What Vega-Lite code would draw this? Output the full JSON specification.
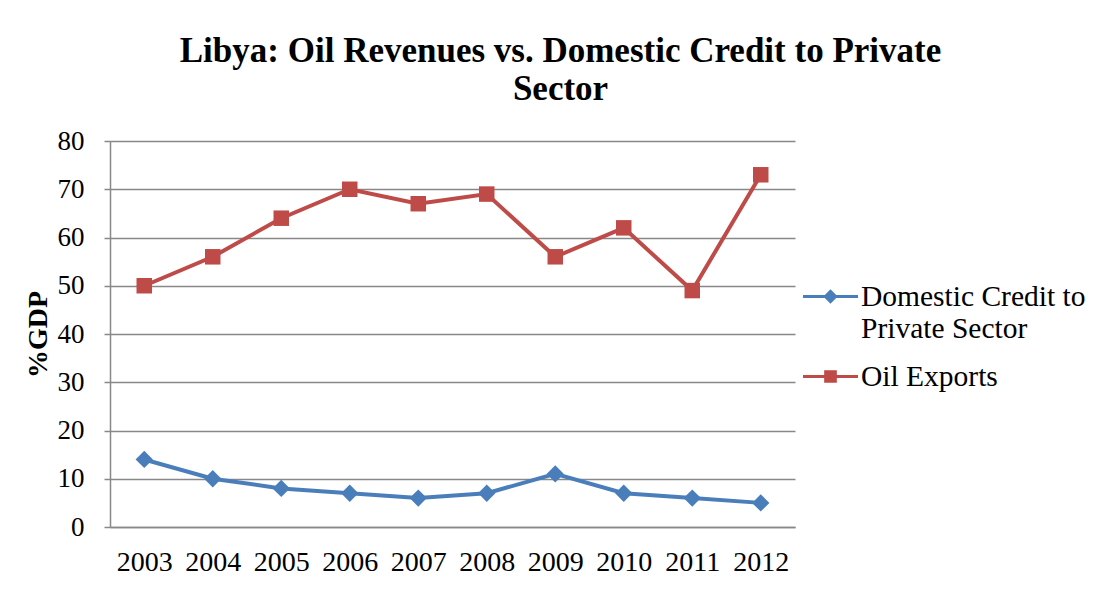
{
  "$schema": "https://vega.github.io/schema/vega-lite/v6.json",
  "width": 685,
  "height": 386,
  "autosize": {"type": "none"},
  "padding": {"left": 110, "top": 141, "right": 310, "bottom": 64},
  "background": "white",
  "title": {
    "text": ["Libya: Oil Revenues vs. Domestic Credit to Private", "Sector"],
    "font": "Liberation Serif",
    "fontSize": 35,
    "fontWeight": "bold",
    "color": "black",
    "anchor": "middle",
    "frame": "group",
    "dx": 108,
    "offset": 20,
    "lineHeight": 38
  },
  "data": {
    "values": [
      {"year": "2003", "series": "Domestic Credit to Private Sector", "value": 14},
      {"year": "2004", "series": "Domestic Credit to Private Sector", "value": 10},
      {"year": "2005", "series": "Domestic Credit to Private Sector", "value": 8},
      {"year": "2006", "series": "Domestic Credit to Private Sector", "value": 7},
      {"year": "2007", "series": "Domestic Credit to Private Sector", "value": 6},
      {"year": "2008", "series": "Domestic Credit to Private Sector", "value": 7},
      {"year": "2009", "series": "Domestic Credit to Private Sector", "value": 11},
      {"year": "2010", "series": "Domestic Credit to Private Sector", "value": 7},
      {"year": "2011", "series": "Domestic Credit to Private Sector", "value": 6},
      {"year": "2012", "series": "Domestic Credit to Private Sector", "value": 5},
      {"year": "2003", "series": "Oil Exports", "value": 50},
      {"year": "2004", "series": "Oil Exports", "value": 56},
      {"year": "2005", "series": "Oil Exports", "value": 64},
      {"year": "2006", "series": "Oil Exports", "value": 70},
      {"year": "2007", "series": "Oil Exports", "value": 67},
      {"year": "2008", "series": "Oil Exports", "value": 69},
      {"year": "2009", "series": "Oil Exports", "value": 56},
      {"year": "2010", "series": "Oil Exports", "value": 62},
      {"year": "2011", "series": "Oil Exports", "value": 49},
      {"year": "2012", "series": "Oil Exports", "value": 73}
    ]
  },
  "encoding": {
    "x": {
      "field": "year",
      "type": "ordinal",
      "scale": {"type": "point", "padding": 0.5},
      "axis": {
        "title": null,
        "labelAngle": 0,
        "labelFont": "Liberation Serif",
        "labelFontSize": 28,
        "labelColor": "black",
        "labelPadding": 21,
        "ticks": false,
        "domainColor": "#888888",
        "domainWidth": 1.5,
        "grid": false
      }
    },
    "y": {
      "field": "value",
      "type": "quantitative",
      "scale": {"domain": [0, 80], "nice": false},
      "axis": {
        "title": "%GDP",
        "titleFont": "Liberation Serif",
        "titleFontSize": 28,
        "titleFontWeight": "bold",
        "titleColor": "black",
        "titlePadding": 5,
        "values": [0, 10, 20, 30, 40, 50, 60, 70, 80],
        "labelFont": "Liberation Serif",
        "labelFontSize": 27,
        "labelColor": "black",
        "labelPadding": 20,
        "tickColor": "#888888",
        "tickSize": 6,
        "tickWidth": 1.5,
        "domainColor": "#888888",
        "domainWidth": 1.5,
        "grid": true,
        "gridColor": "#888888",
        "gridWidth": 1.5
      }
    }
  },
  "layer": [
    {
      "transform": [{"filter": "datum.series == 'Domestic Credit to Private Sector'"}],
      "mark": {"type": "line", "strokeWidth": 4, "color": "#4A7EBB"},
      "encoding": {}
    },
    {
      "transform": [{"filter": "datum.series == 'Oil Exports'"}],
      "mark": {"type": "line", "strokeWidth": 4, "color": "#BE4B48"},
      "encoding": {}
    },
    {
      "transform": [{"filter": "datum.series == 'Domestic Credit to Private Sector'"}],
      "mark": {"type": "point", "shape": "diamond", "filled": true, "opacity": 1, "color": "#4A7EBB", "size": 300}
    },
    {
      "transform": [{"filter": "datum.series == 'Oil Exports'"}],
      "mark": {"type": "point", "shape": "square", "filled": true, "opacity": 1, "color": "#BE4B48", "size": 240}
    },
    {
      "mark": {"type": "point", "filled": true, "opacity": 0},
      "encoding": {
        "color": {
          "field": "series",
          "type": "nominal",
          "scale": {"domain": ["Domestic Credit to Private Sector", "Oil Exports"], "range": ["#4A7EBB", "#BE4B48"]},
          "legend": {
            "title": null,
            "orient": "none",
            "legendX": 692,
            "legendY": 127,
            "padding": 0,
            "symbolSize": 3025,
            "labelFont": "Liberation Serif",
            "labelFontSize": 29.5,
            "labelColor": "black",
            "labelOffset": 2,
            "labelLimit": 400,
            "rowPadding": 5,
            "labelExpr": "datum.label == 'Domestic Credit to Private Sector' ? ['Domestic Credit to', 'Private Sector'] : datum.label",
            "encode": {
              "symbols": {"update": {"opacity": {"value": 1}, "fillOpacity": {"value": 1}}},
              "labels": {"update": {"lineHeight": {"value": 32}}}
            }
          }
        },
        "shape": {
          "field": "series",
          "type": "nominal",
          "scale": {
            "domain": ["Domestic Credit to Private Sector", "Oil Exports"],
            "range": [
              "M-1,-0.055H1V0.055H-1Z M-0.26,0L0,-0.26L0.26,0L0,0.26Z",
              "M-1,-0.055H1V0.055H-1Z M-0.23,-0.23H0.23V0.23H-0.23Z"
            ]
          }
        }
      }
    }
  ],
  "config": {
    "view": {"stroke": null}
  }
}
